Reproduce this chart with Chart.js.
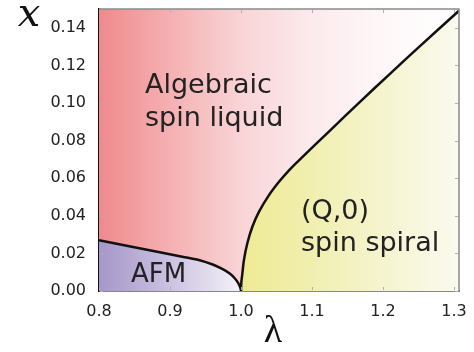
<!DOCTYPE html>
<html>
<head>
<meta charset="utf-8">
<script src="https://cdn.jsdelivr.net/npm/chart.js@4.4.1/dist/chart.umd.min.js"></script>
<style>
  html, body { margin: 0; padding: 0; background: #fff; }
  #wrap { width: 474px; height: 352px; }
</style>
</head>
<body>
<div id="wrap"><canvas id="phase"></canvas></div>
<script>
// tick labels
const lambdaTicks = [0.8, 0.9, 1.0, 1.1, 1.2, 1.3];
const xTicks = [0.00, 0.02, 0.04, 0.06, 0.08, 0.10, 0.12, 0.14];

// spin liquid region (whole panel)
const liquidLambda = [0.8, 1.307];
const liquidX = [0.15, 0.15];

// AFM boundary
const afmLambda = [0.8, 0.839, 0.8855, 0.9207, 0.9418, 0.9601, 0.9742, 0.9841, 0.9911, 0.9961, 0.9989, 1.0];
const afmX = [0.0270, 0.0241, 0.0206, 0.0180, 0.0164, 0.0141, 0.0116, 0.0093, 0.0068, 0.0042, 0.0019, 0.0];

// (Q,0) spiral boundary
const spiralLambda = [1.0, 1.0004, 1.0020, 1.0042, 1.0090, 1.0161, 1.0254, 1.0394, 1.0535, 1.0676, 1.0827,
    1.1249, 1.1672, 1.2094, 1.2516, 1.3070];
const spiralX = [0.0, 0.0045, 0.0096, 0.0167, 0.0255, 0.0343, 0.0422, 0.0510, 0.0581, 0.0642, 0.0699,
    0.0852, 0.1005, 0.1154, 0.1301, 0.1491];

const toPoints = (xs, ys) => xs.map((v, i) => ({ x: v, y: ys[i] }));

// horizontal gradient, stops given in lambda units
function gradient(stops) {
    return (context) => {
        const chart = context.chart;
        if (!chart.chartArea) return null;
        const sx = chart.scales.x;
        const x0 = sx.getPixelForValue(sx.min);
        const x1 = sx.getPixelForValue(sx.max);
        const g = chart.ctx.createLinearGradient(x0, 0, x1, 0);
        stops.forEach(([v, c]) => {
            const t = (v - sx.min) / (sx.max - sx.min);
            g.addColorStop(Math.min(1, Math.max(0, t)), c);
        });
        return g;
    };
}

// 标注与轴标题
const labelPlugin = {
    id: 'labels',
    afterDatasetsDraw(chart) {
        const ctx = chart.ctx;
        ctx.save();
        ctx.fillStyle = '#222';
        ctx.textAlign = 'left';
        ctx.textBaseline = 'alphabetic';
        ctx.font = '27px "DejaVu Sans"';
        ctx.fillText('Algebraic', 145, 93);
        ctx.fillText('spin liquid', 145, 126);
        ctx.fillText('(Q,0)', 301, 219);
        ctx.fillText('spin spiral', 301, 251);
        ctx.font = '26px "DejaVu Sans"';
        ctx.fillText('AFM', 131, 282);
        ctx.restore();
    },
    afterDraw(chart) {
        const ctx = chart.ctx;
        const a = chart.chartArea;
        ctx.save();
        // top / right frame
        ctx.strokeStyle = '#8a8a8a';
        ctx.lineWidth = 1.5;
        ctx.beginPath();
        ctx.moveTo(a.left, a.top);
        ctx.lineTo(a.right, a.top);
        ctx.lineTo(a.right, a.bottom);
        ctx.stroke();
        // small inner tick marks
        ctx.strokeStyle = '#b0b0b0';
        ctx.lineWidth = 1;
        chart.scales.x.ticks.forEach(t => {
            const px = Math.round(chart.scales.x.getPixelForValue(t.value)) + 0.5;
            ctx.beginPath();
            ctx.moveTo(px, a.bottom - 1); ctx.lineTo(px, a.bottom - 4);
            ctx.moveTo(px, a.top + 1); ctx.lineTo(px, a.top + 4);
            ctx.stroke();
        });
        chart.scales.y.ticks.forEach(t => {
            const py = Math.round(chart.scales.y.getPixelForValue(t.value)) + 0.5;
            ctx.beginPath();
            ctx.moveTo(a.left + 1, py); ctx.lineTo(a.left + 4, py);
            ctx.moveTo(a.right - 1, py); ctx.lineTo(a.right - 4, py);
            ctx.stroke();
        });
        // axis titles
        ctx.fillStyle = '#111';
        ctx.textAlign = 'center';
        ctx.font = 'italic 40px "DejaVu Serif"';
        ctx.fillText('x', 29, 26);
        ctx.font = '38px "Liberation Serif"';
        ctx.fillText('λ', 273, 342);
        ctx.restore();
    }
};

new Chart(document.getElementById('phase'), {
    type: 'scatter',
    data: {
        datasets: [
            {
                label: 'AFM',
                data: toPoints(afmLambda, afmX),
                showLine: true,
                tension: 0.3,
                borderColor: '#111',
                borderWidth: 2.5,
                pointRadius: 0,
                fill: 'origin',
                backgroundColor: gradient([[0.8, '#a597c9'], [0.9, '#cbc2e0'], [1.0, '#f4f2f9']]),
                order: 1
            },
            {
                label: '(Q,0) spin spiral',
                data: toPoints(spiralLambda, spiralX),
                showLine: true,
                tension: 0.3,
                borderColor: '#111',
                borderWidth: 2.5,
                pointRadius: 0,
                fill: 'origin',
                backgroundColor: gradient([[1.0, '#eeea93'], [1.1, '#f1efb0'], [1.2, '#f5f4cf'], [1.307, '#fafaef']]),
                order: 1
            },
            {
                label: 'Algebraic spin liquid',
                data: toPoints(liquidLambda, liquidX),
                showLine: true,
                borderWidth: 0,
                borderColor: 'rgba(0,0,0,0)',
                pointRadius: 0,
                fill: 'origin',
                backgroundColor: gradient([[0.8, '#ef8a8c'], [0.9, '#f5b0b2'], [1.0, '#f9d4d6'], [1.1, '#fceaed'], [1.2, '#fef7f8'], [1.307, '#ffffff']]),
                order: 2
            }
        ]
    },
    options: {
        responsive: true,
        maintainAspectRatio: false,
        animation: false,
        layout: { padding: { top: 9, right: 15, left: 0, bottom: 0 } },
        plugins: {
            legend: { display: false },
            tooltip: { enabled: false }
        },
        scales: {
            x: {
                type: 'linear',
                min: 0.8,
                max: 1.307,
                afterBuildTicks: (s) => { s.ticks = lambdaTicks.map(v => ({ value: v })); },
                afterFit: (s) => { s.height = 61; s.paddingLeft = 0; s.paddingRight = 0; },
                grid: { display: false },
                border: { display: true, color: '#111', width: 1.5 },
                ticks: {
                    color: '#222',
                    padding: 3,
                    maxRotation: 0,
                    font: { family: 'DejaVu Sans', size: 16 },
                    callback: (v) => Number(v).toFixed(1)
                }
            },
            y: {
                type: 'linear',
                min: 0,
                max: 0.15,
                afterBuildTicks: (s) => { s.ticks = xTicks.map(v => ({ value: v })); },
                afterFit: (s) => { s.width = 99; s.paddingTop = 0; s.paddingBottom = 0; },
                grid: { display: false },
                border: { display: true, color: '#111', width: 1.5 },
                ticks: {
                    color: '#222',
                    padding: 5,
                    font: { family: 'DejaVu Sans', size: 16 },
                    callback: (v) => Number(v).toFixed(2)
                }
            }
        }
    },
    plugins: [labelPlugin]
});
</script>
</body>
</html>
